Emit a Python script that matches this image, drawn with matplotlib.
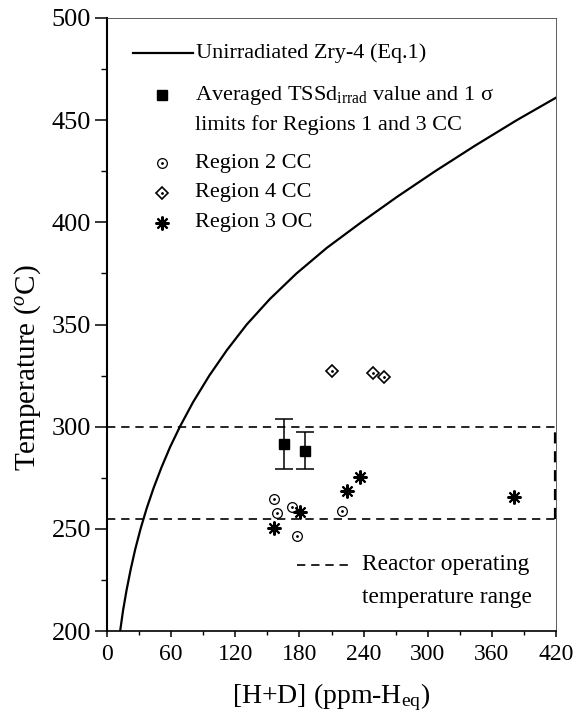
import matplotlib
matplotlib.use("Agg")
import matplotlib.pyplot as plt

plt.rcParams['font.family'] = ['Liberation Serif', 'DejaVu Serif']
plt.rcParams['mathtext.fontset'] = 'custom'
plt.rcParams['mathtext.rm'] = 'Liberation Serif'
plt.rcParams['mathtext.it'] = 'Liberation Serif:italic'

# Eq.1 curve
curve_x = [12.3, 15.0, 18.3, 22.1, 26.4, 31.4, 37.1, 43.6, 50.9, 59.0, 68.2, 80.5, 95.7,
           112.2, 130.7, 152.4, 177.3, 205.6, 237.8, 271.4, 306.9, 344.2, 383.3, 420.0]
curve_T = [200, 210, 220, 230, 240, 250, 260, 270, 280, 290, 300, 312, 325,
           337.5, 350, 362.5, 375, 387.5, 400, 412.5, 425, 437.5, 450, 461]

avg_x = [165.6, 184.9]
avg_T = [291.5, 288.3]
avg_sd = [12.1, 9.0]
avg_xerr = [4.5, 4.5]

r2_x = [156.2, 158.7, 173.4, 178.0, 219.8]
r2_T = [264.5, 257.6, 260.7, 246.5, 258.7]

r4_x = [210.8, 249.1, 259.1]
r4_T = [327.3, 326.4, 324.2]

r3_x = [155.9, 180.9, 224.5, 236.4, 380.7]
r3_T = [250.4, 258.2, 268.5, 275.4, 265.7]

range_lo, range_hi = 255, 300

xticks = [0, 60, 120, 180, 240, 300, 360, 420]
yticks = [200, 250, 300, 350, 400, 450, 500]

fig = plt.figure(figsize=(5.87, 7.19), dpi=100)
ax = fig.add_axes([107/587, 1-631/719, 449/587, 613/719])

dash = (0, (5, 3.5))
ax.plot(curve_x, curve_T, color='black', lw=1.6)
ax.plot([0, 420], [range_hi, range_hi], color='black', lw=1.2, ls=dash)
ax.plot([0, 420], [range_lo, range_lo], color='black', lw=1.2, ls=dash)
ax.plot([419.5, 419.5], [range_lo, range_hi], color='black', lw=1.6, ls=dash, clip_on=False)

# averaged values with error bars
ax.errorbar(avg_x, avg_T, xerr=avg_xerr, fmt='none', ecolor='#888888', elinewidth=0.8,
            capsize=3, capthick=0.8)
ax.errorbar(avg_x, avg_T, yerr=avg_sd, fmt='none', ecolor='black', elinewidth=1.1,
            capsize=6.5, capthick=1.1)
ax.plot(avg_x, avg_T, 's', color='black', ms=6.5)

ax.plot(r2_x, r2_T, 'o', mfc='none', mec='black', ms=7, mew=0.9)
ax.plot(r2_x, r2_T, '.', color='black', ms=2)
ax.plot(r4_x, r4_T, 'D', mfc='none', mec='black', ms=6, mew=1.2)
ax.plot(r4_x, r4_T, '.', color='black', ms=2)
ax.plot(r3_x, r3_T, marker=(8, 2, 0), ls='none', color='black', ms=10, mew=1.5)

# legend (manual)
T = ax.transAxes
fs = 16
ax.plot([0.058, 0.192], [0.943, 0.943], color='black', lw=1.6, transform=T)
ax.text(0.199, 0.943, 'Unirradiated Zry-4 (Eq.1)', transform=T, va='center', ha='left', fontsize=fs)
ax.plot([0.122], [0.874], 's', color='black', ms=6.5, transform=T)
ax.text(0.197, 0.874, r'Averaged TSSd$_{\mathrm{irrad}}$ value and 1 σ', transform=T,
        va='center', ha='left', fontsize=fs)
ax.text(0.197, 0.826, 'limits for Regions 1 and 3 CC', transform=T, va='center', ha='left', fontsize=fs)
ax.plot([0.122], [0.763], 'o', mfc='none', mec='black', ms=7, mew=0.9, transform=T)
ax.plot([0.122], [0.763], '.', color='black', ms=2, transform=T)
ax.text(0.197, 0.763, 'Region 2 CC', transform=T, va='center', ha='left', fontsize=fs)
ax.plot([0.122], [0.715], 'D', mfc='none', mec='black', ms=6, mew=1.2, transform=T)
ax.plot([0.122], [0.715], '.', color='black', ms=2, transform=T)
ax.text(0.197, 0.715, 'Region 4 CC', transform=T, va='center', ha='left', fontsize=fs)
ax.plot([0.122], [0.666], marker=(8, 2, 0), color='black', ms=10, mew=1.5, transform=T)
ax.text(0.197, 0.666, 'Region 3 OC', transform=T, va='center', ha='left', fontsize=fs)

ax.plot([0.423, 0.541], [0.108, 0.108], color='black', lw=1.2, ls=dash, transform=T)
ax.text(0.569, 0.108, 'Reactor operating', transform=T, va='center', ha='left', fontsize=16.8)
ax.text(0.569, 0.054, 'temperature range', transform=T, va='center', ha='left', fontsize=16.8)

ax.set_xlim(0, 420)
ax.set_ylim(200, 500)
ax.set_xticks(xticks)
ax.set_yticks(yticks)
ax.set_xticks(range(30, 420, 60), minor=True)
ax.set_yticks(range(225, 500, 50), minor=True)
ax.tick_params(axis='x', which='major', direction='out', length=4.3, width=1.1, labelsize=17, pad=5)
ax.tick_params(axis='x', which='minor', direction='out', length=2.9, width=1.0)
ax.tick_params(axis='y', which='major', direction='out', length=8.5, width=1.1, labelsize=19, pad=3)
ax.tick_params(axis='y', which='minor', direction='out', length=4.3, width=1.0)

ax.spines['left'].set_linewidth(1.5)
ax.spines['bottom'].set_linewidth(1.2)
ax.spines['top'].set_linewidth(0.6)
ax.spines['right'].set_linewidth(0.6)
ax.spines['top'].set_color('#444444')
ax.spines['right'].set_color('#444444')

ax.set_xlabel(r'[H+D] (ppm-H$_{\mathrm{eq}}$)', fontsize=20, labelpad=12)
ax.set_ylabel(r'Temperature ($^{o}$C)', fontsize=21)
ax.yaxis.set_label_coords(-0.143, 0.43)

fig.savefig('out.png', dpi=100)
